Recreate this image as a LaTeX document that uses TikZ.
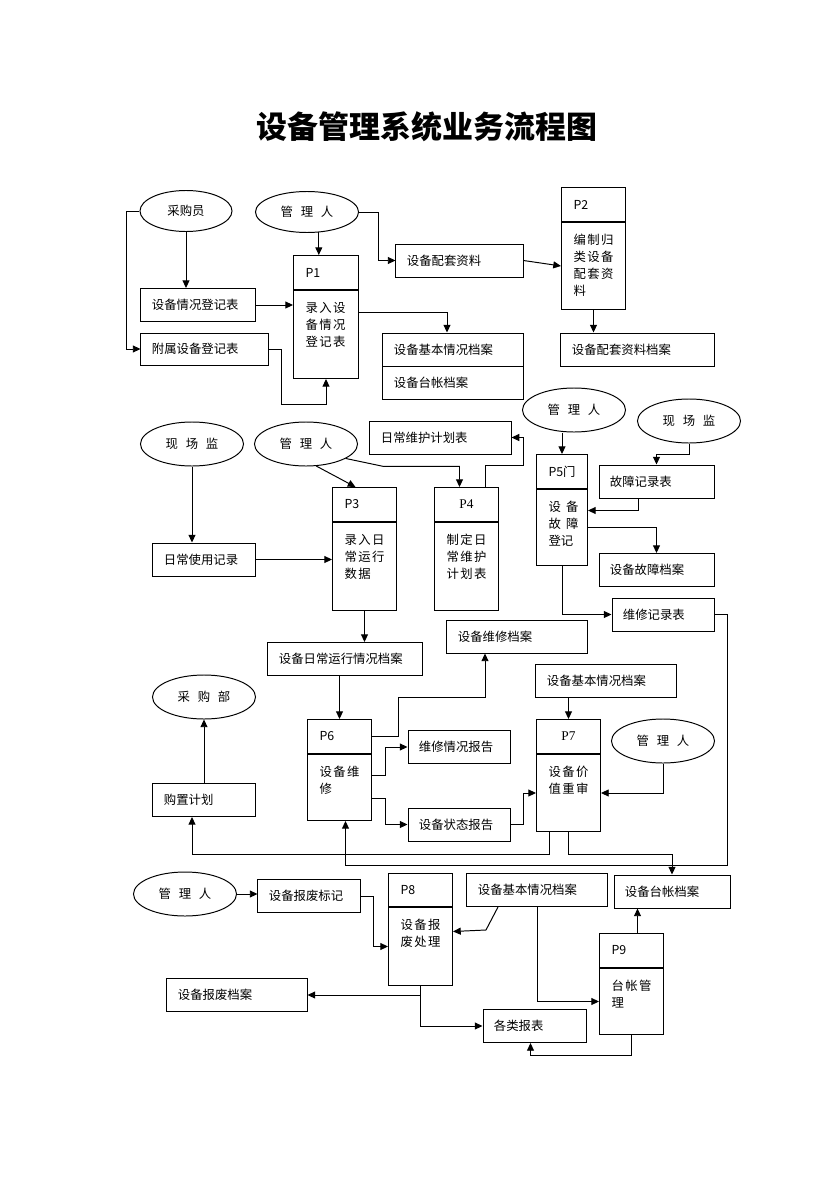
\documentclass[tikz,border=0pt]{standalone}
\usepackage{fontspec}
\setmainfont{Noto Sans CJK SC}
\newfontfamily\spaced{Noto Sans CJK SC}[WordSpace=2.8]
\newfontfamily\pfont{Liberation Serif}
\usetikzlibrary{positioning,shapes.geometric,arrows.meta}
\newcommand{\ptext}[3]{\parbox[t][#1][t]{#2}{\addfontfeature{LetterSpace=12}#3}}

\tikzset{
  every node/.style={font=\fontsize{8.8}{12}\selectfont},
  actor/.style={ellipse, draw, minimum width=2.575cm, minimum height=1.1cm, inner sep=0pt,
    font=\spaced\fontsize{8.8}{12}\selectfont},
  doc/.style={draw, align=left, text width=#1, inner xsep=0.275cm, inner ysep=0pt, minimum height=0.825cm},
  phead/.style={draw, anchor=north west, text width=#1, align=left, inner xsep=0.3cm, inner ysep=0pt, minimum height=0.85cm},
  phead/.default=1cm,
  pserif/.style={align=center, font=\pfont\fontsize{9.5}{12}\selectfont},
  pbody/.style={draw, below=0pt of #1, inner xsep=0.3cm, inner ysep=0.3cm},
  flow/.style={-{Triangle[length=5.5pt,width=5pt]}},
}

\begin{document}
\begin{tikzpicture}[x=0.025cm, y=-0.025cm, line width=0.7pt]
\path[fill=white] (0,0) rectangle (840,1189);
\useasboundingbox (0,0) rectangle (840,1189);

\node[font=\fontsize{22}{26}\selectfont\bfseries] (title) at (427,127) {设备管理系统业务流程图};

\node[actor, minimum width=2.3cm, minimum height=1.025cm] (buyer) at (186,211) {采购员};
\node[actor, minimum height=1.025cm] (mgr1) at (307,212) {管 理 人};
\node[doc=2.3cm] (reg1) at (198,305) {设备情况登记表};
\node[doc=2.625cm, minimum height=0.8cm] (reg2) at (204.5,349) {附属设备登记表};
\node[phead=1.025cm] (p1h) at (293,255) {P1};
\node[pbody=p1h] (p1) {\ptext{1.6cm}{1.025cm}{录入设\\备情况\\登记表}};
\node[doc=2.625cm] (kit) at (459.5,260.5) {设备配套资料};
\node[phead] (p2h) at (561,187) {P2};
\node[pbody=p2h] (p2) {\ptext{1.575cm}{1cm}{编制归\\类设备\\配套资\\料}};
\node[doc=2.95cm] (base1) at (453,349.5) {设备基本情况档案};
\node[doc=2.95cm] (ledger1) at (453,382.5) {设备台帐档案};
\node[doc=3.275cm] (kitarc) at (637.5,349.5) {设备配套资料档案};

\node[actor] (site1) at (192,444) {现 场 监};
\node[actor] (mgr2) at (306,444) {管 理 人};
\node[doc=2.975cm] (plan) at (440.5,437.5) {日常维护计划表};
\node[actor] (mgr3) at (574,410) {管 理 人};
\node[actor] (site2) at (689,421) {现 场 监};
\node[doc=2cm] (daily) at (204,559.5) {日常使用记录};
\node[phead] (p3h) at (332,487) {P3};
\node[pbody=p3h] (p3) {\ptext{1.6cm}{1cm}{录入日\\常运行\\数据}};
\node[phead, pserif] (p4h) at (434,487) {P4};
\node[pbody=p4h] (p4) {\ptext{1.6cm}{1cm}{制定日\\常维护\\计划表}};
\node[phead=0.675cm] (p5h) at (536,454) {P5门};
\node[pbody=p5h] (p5) {\ptext{1.3cm}{0.675cm}{\spaced 设~备\\故~障\\登记}};
\node[doc=2.325cm] (fault) at (656.5,481.5) {故障记录表};
\node[doc=2.325cm] (faultarc) at (656.5,570) {设备故障档案};
\node[doc=2cm] (repair) at (663,614.5) {维修记录表};

\node[doc=3.3cm] (runarc) at (345,659) {设备日常运行情况档案};
\node[doc=2.95cm] (fixarc) at (517,636.5) {设备维修档案};
\node[doc=2.95cm] (base2) at (606,680.5) {设备基本情况档案};
\node[actor] (dept) at (204,697) {采 购 部};
\node[phead] (p6h) at (307,719) {P6};
\node[pbody=p6h] (p6) {\ptext{1.05cm}{1cm}{设备维\\修}};
\node[doc=2cm] (fixrep) at (459,747) {维修情况报告};
\node[phead, pserif] (p7h) at (536,719) {P7};
\node[pbody=p7h] (p7) {\ptext{1.325cm}{1cm}{设备价\\值重审}};
\node[actor] (mgr4) at (663,741) {管 理 人};
\node[doc=2cm] (buy) at (204,800) {购置计划};
\node[doc=2cm] (staterep) at (459,824.5) {设备状态报告};

\node[actor] (mgr5) at (185,894) {管 理 人};
\node[doc=2cm] (scrapmark) at (309,896) {设备报废标记};
\node[phead, minimum height=0.825cm] (p8h) at (388,873) {P8};
\node[pbody=p8h] (p8) {\ptext{1.35cm}{1cm}{设备报\\废处理}};
\node[doc=2.95cm] (base3) at (537,890) {设备基本情况档案};
\node[doc=2.35cm] (ledger2) at (672,891.5) {设备台帐档案};
\node[phead] (p9h) at (599,933) {P9};
\node[pbody=p9h] (p9) {\ptext{1.05cm}{1cm}{台帐管\\理}};
\node[doc=2.95cm] (scraparc) at (237,995) {设备报废档案};
\node[doc=2.025cm] (reports) at (534.5,1026) {各类报表};

\draw[flow] (buyer.west) -- ++(-13,0) |- (reg2.west);
\draw[flow] (buyer.south) -- (buyer.south |- reg1.north);
\draw[flow] (mgr1.-60) -- (mgr1.-60 |- p1h.north);
\draw[flow] (mgr1.east) -- ++(19,0) |- (kit.west);
\draw[flow] (reg1.east) -- (reg1.east -| p1.west);
\draw[flow] (reg2.east) -- ++(13,0) |- ([yshift=-0.625cm]p1.south) -- (p1.south);
\draw[flow] ([yshift=-0.55cm]p1.north east) -| ([xshift=-0.15cm]base1.north);
\draw[flow] (kit.east) -- (p2.west);
\draw[flow] (p2.south) -- (p2.south |- kitarc.north);

\draw[flow] (site1.south) -- (site1.south |- daily.north);
\draw[flow] (daily.east) -- (daily.east -| p3.west);
\draw[flow] (mgr2.-65) -- ([xshift=-0.225cm]p3h.north);
\draw[flow] (mgr2.-20) -- ++(38,8) -| ([xshift=-0.175cm]p4h.north);
\draw[flow] ([xshift=0.475cm]p4h.north) -- ++(0,-22) -- ++(38,0) |- (plan.east);
\draw[flow] (p5h.north |- mgr3.south) -- (p5h.north);
\draw[flow] (site2.south) -- ++(0,11) -| (fault.north);
\draw[flow] ([xshift=-0.4625cm]fault.south) |- ([yshift=0.425cm]p5.east);
\draw[flow] (p5.east) -| (faultarc.north);
\draw[flow] (p5.south) |- (repair.west);
\draw[flow] (repair.east) -- ++(13,0) |- ([xshift=0.15cm,yshift=-1.1cm]p6.south) -- ([xshift=0.15cm]p6.south);
\draw[flow] (p3.south) -- (p3.south |- runarc.north);
\draw[flow] (runarc.south -| p6h.north) -- (p6h.north);

\draw[flow] (buy.north) -- (dept.south);
\draw[flow] (p6h.east) -- ++(26,0) |- ([xshift=-0.8cm,yshift=-1.1cm]fixarc.south) -- ([xshift=-0.8cm]fixarc.south);
\draw[flow] ([yshift=0.3cm]p6.east) -- ++(13,0) |- (fixrep.west);
\draw[flow] ([yshift=-0.275cm]p6.east) -- ++(13,0) |- (staterep.west);
\draw[flow] (staterep.east) -- ++(13,0) |- (p7.west);
\draw[flow] (p7h.north |- base2.south) -- (p7h.north);
\draw[flow] (mgr4.south) |- (p7.east);
\draw[flow] ([xshift=-0.4875cm]p7.south) -- ++(0,22) -| ([xshift=-0.3cm]buy.south);
\draw[flow] (p7.south) -- ++(0,22) -| (ledger2.north);

\draw[flow] (mgr5.east) -- (mgr5.east -| scrapmark.west);
\draw[flow] (scrapmark.east) -- ++(13,0) |- (p8.west);
\draw[flow] ([xshift=-0.975cm]base3.south) -- ++(-12,23) -- ([yshift=0.375cm]p8.east);
\draw[flow] (base3.south) |- (p9.west);
\draw[flow] ([xshift=0.15cm]p9h.north) -- ([xshift=0.15cm]p9h.north |- ledger2.south);
\draw[flow] (p8.south) |- (scraparc.east);
\draw[flow] (p8.south) |- (reports.west);
\draw[flow] (p9.south) -- ++(0,20) -| ([xshift=-0.1cm]reports.south);
\end{tikzpicture}
\end{document}
